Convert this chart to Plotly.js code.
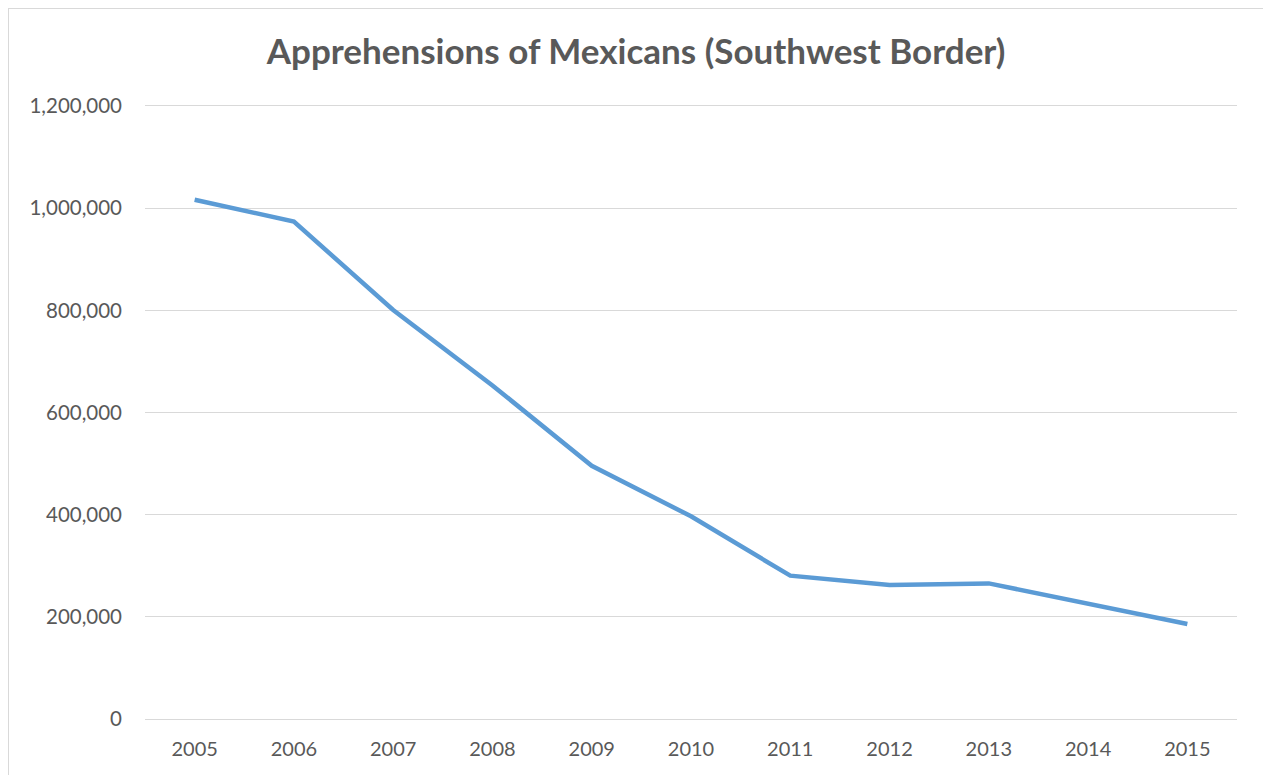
<!DOCTYPE html>
<html><head><meta charset="utf-8">
<script src="https://cdn.plot.ly/plotly-3.0.1.min.js"></script>
<style>
html,body{margin:0;padding:0;background:#fff;overflow:hidden;}
#frame{position:absolute;left:8px;top:8px;width:1300px;height:800px;border:1px solid #d9d9d9;}
#chart{position:absolute;left:0;top:0;width:1263px;height:775px;}
</style></head>
<body>
<div id="frame"></div>
<div id="chart"></div>
<script>
const years = ['2005','2006','2007','2008','2009','2010','2011','2012','2013','2014','2015'];
const apprehensions = [1016409, 973819, 800634, 653035, 495582, 396819, 280580, 262341, 265409, 226771, 186017];
const yTicks = [0, 200000, 400000, 600000, 800000, 1000000, 1200000];
const yTickLabels = ['0','200,000','400,000','600,000','800,000','1,000,000','1,200,000'];

const font = 'Lato, Calibri, Carlito, "Open Sans", sans-serif';
Plotly.newPlot('chart', [{
  x: years, y: apprehensions, type: 'scatter', mode: 'lines',
  line: {color: '#5b9bd5', width: 4.5},
  hoverinfo: 'x+y'
}], {
  width: 1263, height: 775,
  paper_bgcolor: 'rgba(0,0,0,0)', plot_bgcolor: 'rgba(0,0,0,0)',
  margin: {l: 145, r: 26, t: 106, b: 56},
  showlegend: false,
  title: {text: '<b>Apprehensions of Mexicans (Southwest Border)</b>', xref: 'container', x: 0.5036, xanchor: 'center', yref: 'container', y: 1 - 52/775, yanchor: 'middle', font: {family: font, size: 35, color: '#595959'}},
  xaxis: {type: 'category', range: [-0.5, 10.5], showgrid: false, zeroline: false, showline: true, mirror: true, linecolor: '#d9d9d9', linewidth: 1.3, ticks: '', ticklabelstandoff: 12, tickfont: {family: font, size: 20, color: '#595959'}, fixedrange: true},
  yaxis: {range: [0, 1200000], tickvals: yTicks, ticktext: yTickLabels, showgrid: true, gridcolor: '#d9d9d9', gridwidth: 1.3, zeroline: false, showline: false, ticks: '', ticklabelstandoff: 22, tickfont: {family: font, size: 20.5, color: '#595959'}, fixedrange: true}
}, {displayModeBar: false, staticPlot: true});
</script>
</body></html>
